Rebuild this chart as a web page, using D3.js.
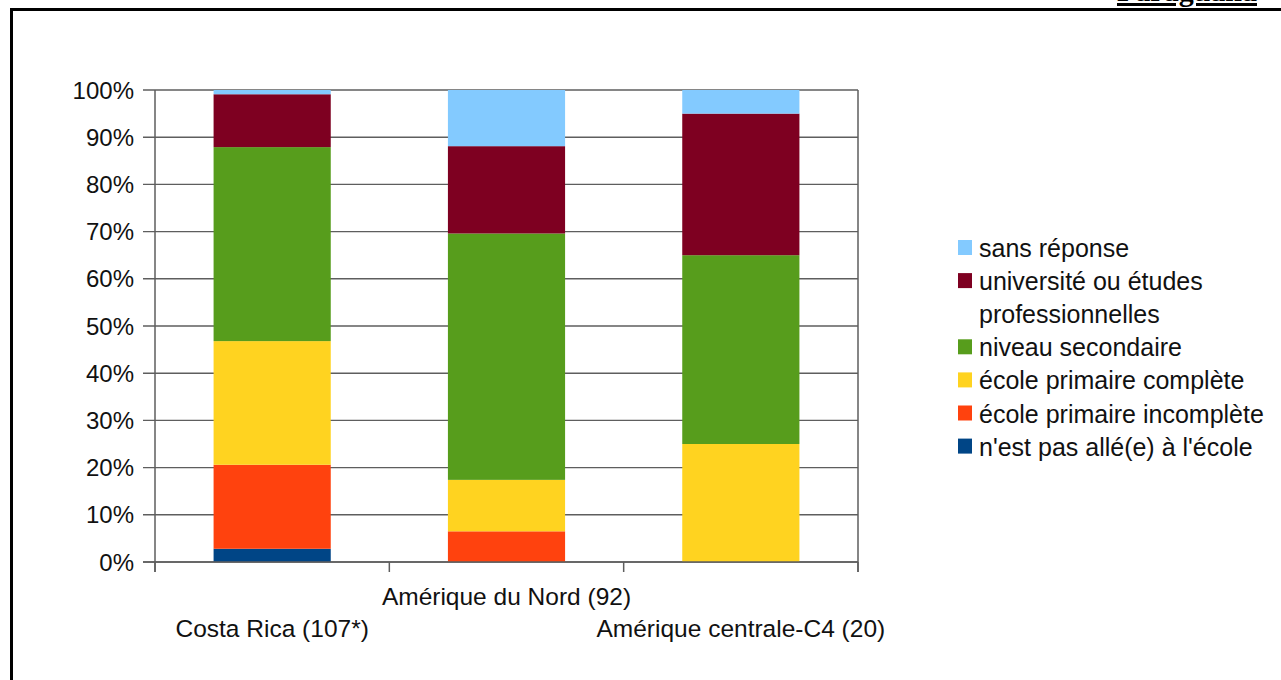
<!DOCTYPE html>
<html>
<head>
<meta charset="utf-8">
<script src="https://cdn.jsdelivr.net/npm/d3@7"></script>
<style>
  html, body { margin: 0; padding: 0; background: #fff; }
  svg { display: block; font-family: "Liberation Sans", Arial, sans-serif; }
</style>
</head>
<body>
<div id="chart"></div>
<script>
// Categories (x axis) and series, values in % of respondents
const categories = ["Costa Rica (107*)", "Amérique du Nord (92)", "Amérique centrale-C4 (20)"];
const seriesNames = [
    "n'est pas allé(e) à l'école",
    "école primaire incomplète",
    "école primaire complète",
    "niveau secondaire",
    "université ou études professionnelles",
    "sans réponse"
];
const seriesColors = ["#004586", "#ff420e", "#ffd320", "#579d1c", "#7e0021", "#83caff"];

const pasEcole      = [2.8, 0, 0];
const primIncompl   = [17.8, 6.5, 0];
const primCompl     = [26.2, 10.9, 25];
const secondaire    = [41.1, 52.2, 40];
const universite    = [11.2, 18.5, 30];
const sansReponse   = [0.9, 11.9, 5];

const yTicks = [0, 10, 20, 30, 40, 50, 60, 70, 80, 90, 100];

// Legend entries, top to bottom (reverse of stacking order)
const legendLabels = [
    ["sans réponse"],
    ["université ou études", "professionnelles"],
    ["niveau secondaire"],
    ["école primaire complète"],
    ["école primaire incomplète"],
    ["n'est pas allé(e) à l'école"]
];

const seriesValues = [pasEcole, primIncompl, primCompl, secondaire, universite, sansReponse];

const width = 1281, height = 680;
const plot = { left: 155, right: 858, top: 90, bottom: 562 };

const svg = d3.select("#chart").append("svg")
    .attr("width", width)
    .attr("height", height);

// page frame + header that runs off the top of the page
svg.append("path")
    .attr("d", `M11.5,${height} V9.5 H${width}`)
    .attr("fill", "none")
    .attr("stroke", "#000")
    .attr("stroke-width", 3);

svg.append("text")
    .attr("x", 1257)
    .attr("y", 1)
    .attr("text-anchor", "end")
    .attr("font-family", "'Liberation Serif', 'Times New Roman', serif")
    .attr("font-weight", "bold")
    .attr("font-size", 30)
    .attr("text-decoration", "underline")
    .attr("fill", "#000")
    .text("Paraguana");

const x = d3.scaleBand()
    .domain(categories)
    .range([plot.left, plot.right])
    .paddingInner(0.5)
    .paddingOuter(0.25);

const y = d3.scaleLinear()
    .domain([0, 100])
    .range([plot.bottom, plot.top]);

// Gridlines
svg.append("g")
    .selectAll("line")
    .data(yTicks)
    .join("line")
    .attr("x1", plot.left - 12)
    .attr("x2", plot.right)
    .attr("y1", d => y(d))
    .attr("y2", d => y(d))
    .attr("stroke", "#5e5e5e")
    .attr("stroke-width", 1.4);

// Stack the data
const rows = categories.map((c, i) => {
    const r = { cat: c };
    seriesNames.forEach((s, j) => { r[s] = seriesValues[j][i]; });
    return r;
});
const stacked = d3.stack().keys(seriesNames)(rows);

svg.append("g")
    .selectAll("g")
    .data(stacked)
    .join("g")
    .attr("fill", (d, i) => seriesColors[i])
    .selectAll("rect")
    .data(d => d)
    .join("rect")
    .attr("x", d => x(d.data.cat))
    .attr("width", x.bandwidth())
    .attr("y", d => y(d[1]))
    .attr("height", d => y(d[0]) - y(d[1]));

// Axes frame
const axisColor = "#5e5e5e";
[plot.left, plot.right].forEach(px => {
    svg.append("line")
        .attr("x1", px).attr("x2", px)
        .attr("y1", plot.top).attr("y2", plot.bottom + 10)
        .attr("stroke", axisColor).attr("stroke-width", 1.5);
});
svg.append("line")
    .attr("x1", plot.left - 12).attr("x2", plot.right)
    .attr("y1", plot.bottom).attr("y2", plot.bottom)
    .attr("stroke", axisColor).attr("stroke-width", 1.5);

// x category boundary ticks
const step = x.step();
const boundaries = d3.range(categories.length + 1).map(i => plot.left + i * step);
svg.append("g")
    .selectAll("line")
    .data(boundaries)
    .join("line")
    .attr("x1", d => d).attr("x2", d => d)
    .attr("y1", plot.bottom).attr("y2", plot.bottom + 10)
    .attr("stroke", axisColor).attr("stroke-width", 1.5);

// y tick labels
svg.append("g")
    .selectAll("text")
    .data(yTicks)
    .join("text")
    .attr("x", 134)
    .attr("y", d => y(d))
    .attr("dy", "0.36em")
    .attr("text-anchor", "end")
    .attr("font-size", 24)
    .attr("fill", "#111")
    .text(d => d + "%");

// x labels, staggered
svg.append("g")
    .selectAll("text")
    .data(categories)
    .join("text")
    .attr("x", d => x(d) + x.bandwidth() / 2)
    .attr("y", (d, i) => i % 2 === 1 ? 605 : 637)
    .attr("text-anchor", "middle")
    .attr("font-size", 24.5)
    .attr("fill", "#111")
    .text(d => d);

// Legend
const legendRow = [0, 1, 3, 4, 5, 6];
const legendColors = seriesColors.slice().reverse();
const legend = svg.append("g");
legendLabels.forEach((lines, i) => {
    const cy = 248 + legendRow[i] * 33.1;
    legend.append("rect")
        .attr("x", 958)
        .attr("y", cy - 8)
        .attr("width", 14)
        .attr("height", 15)
        .attr("fill", legendColors[i]);
    lines.forEach((t, k) => {
        legend.append("text")
            .attr("x", 979)
            .attr("y", cy + k * 33.1)
            .attr("dy", "0.36em")
            .attr("font-size", 25)
            .attr("fill", "#111")
            .text(t);
    });
});
</script>
</body>
</html>
